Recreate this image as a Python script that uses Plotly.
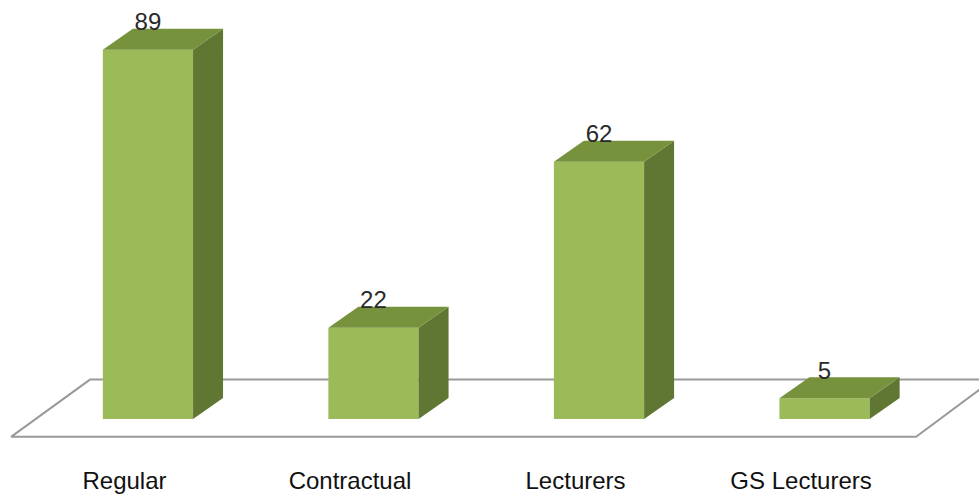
import plotly.graph_objects as go

# ── Data ───────────────────────────────────────────────────────────────────────
categories = ["Regular", "Contractual", "Lecturers", "GS Lecturers"]
staff_counts = [89, 22, 62, 5]
positions = [0, 1, 2, 3]

# ── Styling constants ──────────────────────────────────────────────────────────
FRONT = "#9BBB59"
TOP = "#76923C"
SIDE = "#607734"
FLOOR_LINE = "#9A9A9A"
BAR_WIDTH = 0.4
DEPTH_X = 0.133    # fake 3D depth, in axis units
DEPTH_Y = 5.06
LABEL_LIFT = 6.1
TICK_SHIFT = -0.104

fig = go.Figure()

# front faces
fig.add_trace(go.Bar(x=positions, y=staff_counts, width=BAR_WIDTH,
                     marker=dict(color=FRONT, line=dict(width=0))))

# side and top faces, worked out from the values
for x, v in zip(positions, staff_counts):
    left = x - BAR_WIDTH / 2
    right = x + BAR_WIDTH / 2
    fig.add_trace(go.Scatter(
        x=[right, right + DEPTH_X, right + DEPTH_X, right, right],
        y=[0, DEPTH_Y, v + DEPTH_Y, v, 0],
        mode="lines", fill="toself", fillcolor=SIDE, line=dict(width=0)))
    fig.add_trace(go.Scatter(
        x=[left, left + DEPTH_X, right + DEPTH_X, right, left],
        y=[v, v + DEPTH_Y, v + DEPTH_Y, v, v],
        mode="lines", fill="toself", fillcolor=TOP, line=dict(width=0)))

# value labels
fig.add_trace(go.Scatter(
    x=positions, y=[v + LABEL_LIFT for v in staff_counts],
    mode="text", text=[str(v) for v in staff_counts], textposition="middle center",
    textfont=dict(family="Liberation Sans", size=24, color="#2a2a2a")))

# floor of the 3D plot
fig.add_shape(type="path", layer="below", line=dict(color=FLOOR_LINE, width=2),
              path="M -0.607 -4.3 L -0.257 9.5 L 3.69 9.5 M -0.607 -4.3 L 3.406 -4.3 L 3.69 7.2")

fig.update_layout(
    width=979, height=497,
    margin=dict(l=0, r=0, t=0, b=33),
    paper_bgcolor="white", plot_bgcolor="white",
    showlegend=False,
    xaxis=dict(range=[-0.656, 3.685], showgrid=False, zeroline=False, showline=False,
               tickmode="array", tickvals=[p + TICK_SHIFT for p in positions],
               ticktext=categories, ticks="",
               tickfont=dict(family="Liberation Sans", size=24, color="#111111")),
    yaxis=dict(range=[-10.84, 100.96], showgrid=False, zeroline=False, showline=False,
               showticklabels=False, ticks=""),
)

# page margin would push the fixed-size plot 8px off
fig.write_html("out.html", config={"displayModeBar": False},
               post_script="document.body.style.margin='0';")
